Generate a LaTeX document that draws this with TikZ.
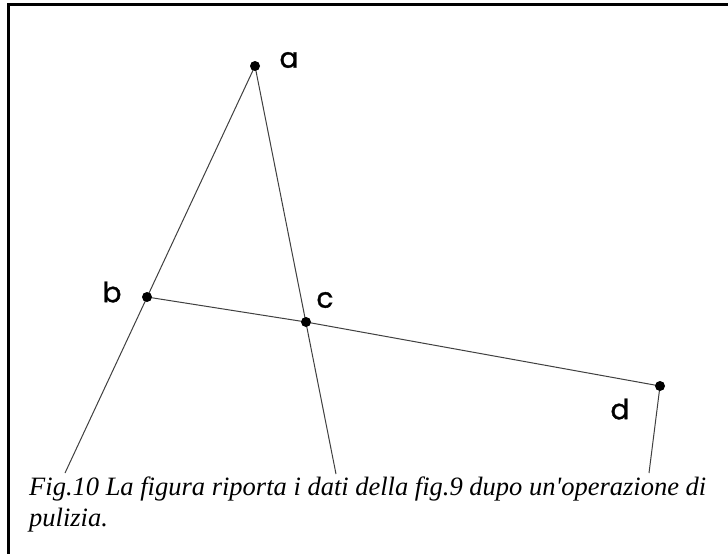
\documentclass[tikz,border=0pt]{standalone}
\usepackage{fontspec}
\setmainfont{Liberation Serif}
\newfontfamily\capfont{Liberation Serif}
\newfontfamily\labfont{Poppins}[FakeBold=1.2]
\begin{document}
\begin{tikzpicture}[x=1pt,y=-1pt,
  seg/.style={line width=1pt, draw=black!75},
  dot/.style={circle, fill=black, inner sep=0pt, minimum size=10pt},
  lab/.style={font=\labfont\fontsize{28}{28}\selectfont, inner sep=0pt},
  captext/.style={font=\capfont\itshape\fontsize{26.5}{30.5}\selectfont, inner sep=0pt, anchor=base west, align=left}]
\useasboundingbox (0,0) rectangle (728,554);
\fill[white] (0,0) rectangle (728,554);
\draw[line width=3pt] (8.5,554) -- (8.5,4.5) -- (728,4.5);
% points
\coordinate (a) at (255,66);
\coordinate (b) at (147,297);
\coordinate (c) at (306,322);
\coordinate (d) at (660,386);
\coordinate (e1) at (65,473);
\coordinate (e2) at (336,474);
\coordinate (e3) at (649,473);
\draw[seg] (a) -- (e1);
\draw[seg] (a) -- (e2);
\draw[seg] (b) -- (c) -- (d);
\draw[seg] (d) -- (e3);
\node[dot] (na) at (a) {};
\node[dot] (nb) at (b) {};
\node[dot] (nc) at (c) {};
\node[dot] (nd) at (d) {};
\node[lab] (la) at (289,60) {a};
\node[lab] (lb) at (112,292) {b};
\node[lab] (lc) at (325,300) {c};
\node[lab] (ld) at (620,409) {d};
\node[captext] (caption) at (29,526) {Fig.10 La figura riporta i dati della fig.9 dupo un'operazione di\\pulizia.};
\end{tikzpicture}
\end{document}
